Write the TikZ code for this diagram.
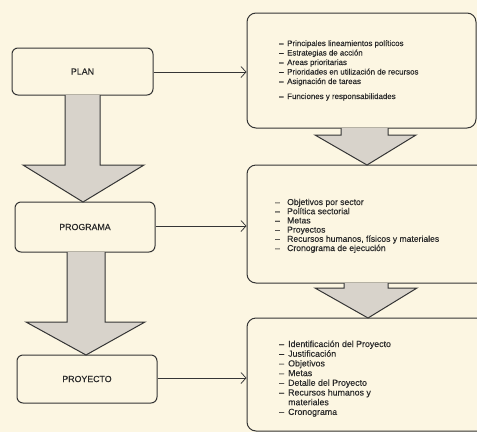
\documentclass[tikz,border=0pt]{standalone}
\usepackage{fontspec}
\setmainfont[FakeBold=0.35]{Liberation Sans}
\usetikzlibrary{arrows.meta}
\definecolor{paper}{HTML}{FCF6E2}
\definecolor{ink}{HTML}{353535}
\definecolor{txt}{HTML}{2A2A2A}
\definecolor{arrowfill}{HTML}{D8D3CB}
\begin{document}
\begin{tikzpicture}[x=1pt,y=-1pt,
  leftbox/.style={draw=ink, line width=1pt, rounded corners=6pt, fill=paper,
    inner sep=0pt, font=\fontsize{8.8}{10}\selectfont, text=txt},
  rightbox/.style={draw=ink, line width=1pt, rounded corners=9pt, fill=paper, inner sep=0pt},
  conn/.style={draw=ink, line width=0.75pt, -{Straight Barb[length=5pt,width=11pt,line width=0.75pt]}},
  bigarrow/.style={fill=arrowfill},
  bigedge/.style={draw=ink, line width=1pt, line join=miter},
  itemA/.style={anchor=base west, inner sep=0pt, text=txt, font=\fontsize{7.9}{9}\selectfont},
  itemB/.style={anchor=base west, inner sep=0pt, text=txt, font=\fontsize{8.6}{9}\selectfont},
  itemC/.style={anchor=base west, inner sep=0pt, text=txt, font=\fontsize{8.8}{9}\selectfont}
]
\useasboundingbox (0,0) rectangle (477,432);
\fill[paper] (0,0) rectangle (477,432);
\clip (0,0) rectangle (477,432);

% left boxes
\node[leftbox, minimum width=141pt, minimum height=47pt] (plan) at (82.5,71.5) {PLAN};
\node[leftbox, minimum width=140pt, minimum height=50pt] (prog) at (85,227) {PROGRAMA};
\node[leftbox, minimum width=140pt, minimum height=48pt] (proy) at (87,379) {PROYECTO};

% right boxes
\node[rightbox, minimum width=229pt, minimum height=115pt] (r1) at (361.5,70.5) {};
\node[rightbox, minimum width=250pt, minimum height=118pt] (r2) at (372,224) {};
\node[rightbox, minimum width=250pt, minimum height=113pt] (r3) at (372,374.5) {};

% connectors
\draw[conn] (plan.east |- 0,72) -- (r1.west |- 0,72);
\draw[conn] (prog.east |- 0,226) -- (r2.west |- 0,226);
\draw[conn] (proy.east |- 0,378) -- (r3.west |- 0,378);

% big arrows (left)
\fill[bigarrow] (65,95) -- (65,165) -- (23,165) -- (83,202) -- (144,165) -- (100,165) -- (100,95) -- cycle;
\draw[bigedge] (65,95) -- (65,165) -- (23,165) -- (83,202) -- (144,165) -- (100,165) -- (100,95);
\fill[bigarrow] (67,252) -- (67,322) -- (26,322) -- (86,355) -- (145,322) -- (105,322) -- (105,252) -- cycle;
\draw[bigedge] (67,252) -- (67,322) -- (26,322) -- (86,355) -- (145,322) -- (105,322) -- (105,252);
% big arrows (right)
\fill[bigarrow] (341,128) -- (341,135) -- (315,135) -- (367,165) -- (416,135) -- (388,135) -- (388,128) -- cycle;
\draw[bigedge] (341,128) -- (341,135) -- (315,135) -- (367,165) -- (416,135) -- (388,135) -- (388,128);
\fill[bigarrow] (344,283) -- (344,288) -- (315,288) -- (368,318) -- (417,288) -- (388,288) -- (388,283) -- cycle;
\draw[bigedge] (344,283) -- (344,288) -- (315,288) -- (368,318) -- (417,288) -- (388,288) -- (388,283);

% box 1 items
\foreach \i/\y/\t in {1/46/Principales lineamientos políticos,
                      2/55.5/Estrategias de acción,
                      3/65/Areas prioritarias,
                      4/74.5/Prioridades en utilización de recursos,
                      5/84/Asignación de tareas,
                      6/99/Funciones y responsabilidades}
  \node[itemA] (a\i) at (279,\y) {\makebox[8pt][l]{--}\t};

% box 2 items
\foreach \i/\y/\t in {1/205/Objetivos por sector,
                      2/214.2/Política sectorial,
                      3/223.4/Metas,
                      4/232.6/Proyectos,
                      5/241.8/{Recursos humanos, físicos y materiales},
                      6/251/Cronograma de ejecución}
  \node[itemB] (b\i) at (275,\y) {\makebox[12pt][l]{--}\t};

% box 3 items
\foreach \i/\y/\t in {1/347/Identificación del Proyecto,
                      2/356.7/Justificación,
                      3/366.4/Objetivos,
                      4/376.1/Metas,
                      5/385.8/Detalle del Proyecto,
                      6/395.5/Recursos humanos y,
                      8/414.9/Cronograma}
  \node[itemC] (c\i) at (279,\y) {\makebox[9pt][l]{--}\t};
\node[itemC] (c7) at (288,405.2) {materiales};
\end{tikzpicture}
\end{document}
